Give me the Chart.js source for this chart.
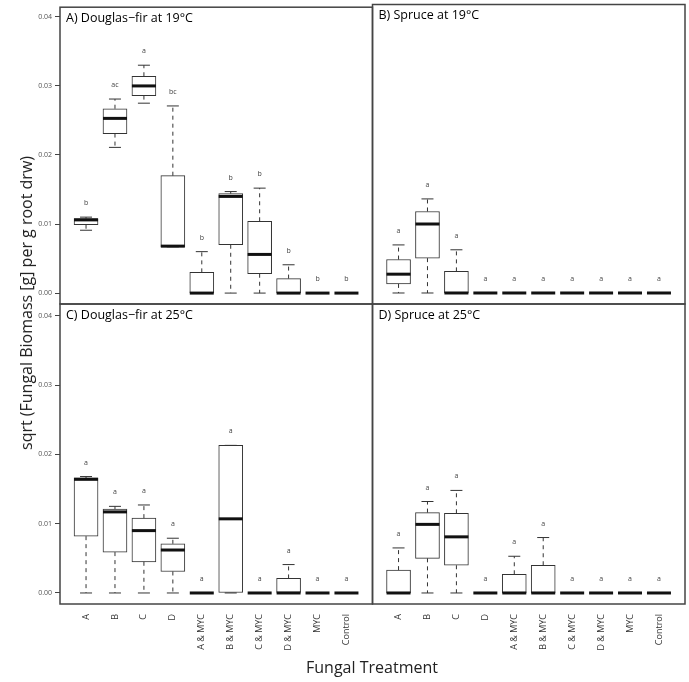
<!DOCTYPE html>
<html>
<head>
<meta charset="utf-8">
<script src="https://cdn.jsdelivr.net/npm/chart.js@4.4.1/dist/chart.umd.min.js"></script>
<style>
  body { margin: 0; background: #fff; }
  #wrap { position: relative; width: 689px; height: 682px; font-family: 'Open Sans', sans-serif; }
  #wrap canvas { position: absolute; left: 0; top: 0; }
  .ttl { position: absolute; color: #222; font-size: 16px; white-space: nowrap; }
  #ytitle { left: 26px; top: 303px; transform: translate(-50%, -50%) rotate(-90deg); }
  #xtitle { left: 372px; top: 667px; transform: translate(-50%, -50%); }
</style>
</head>
<body>
<div id="wrap">
  <canvas id="cA" width="689" height="682"></canvas>
  <canvas id="cB" width="689" height="682"></canvas>
  <canvas id="cC" width="689" height="682"></canvas>
  <canvas id="cD" width="689" height="682"></canvas>
  <div class="ttl" id="ytitle">sqrt (Fungal Biomass [g] per g root drw)</div>
  <div class="ttl" id="xtitle">Fungal Treatment</div>
</div>
<script>
// treatments and y ticks
const cats = ['A', 'B', 'C', 'D', 'A & MYC', 'B & MYC', 'C & MYC', 'D & MYC', 'MYC', 'Control'];
const yTicks = [0, 0.01, 0.02, 0.03, 0.04];

// A) Douglas-fir at 19C
const aLo  = [0.0091, 0.0211, 0.0275, 0.0067, 0, 0, 0, 0, 0, 0];
const aQ1  = [0.0099, 0.0231, 0.0286, 0.0067, 0, 0.0070, 0.0028, 0, 0, 0];
const aMed = [0.0106, 0.0253, 0.0300, 0.0068, 0, 0.0140, 0.0056, 0, 0, 0];
const aQ3  = [0.0108, 0.0267, 0.0314, 0.0170, 0.0030, 0.0144, 0.0104, 0.0021, 0, 0];
const aHi  = [0.0110, 0.0281, 0.0330, 0.0271, 0.0060, 0.0147, 0.0152, 0.0041, 0, 0];
const aLet = ['b', 'ac', 'a', 'bc', 'b', 'b', 'b', 'b', 'b', 'b'];

// B) Spruce at 19C
const bLo  = [0, 0, 0, 0, 0, 0, 0, 0, 0, 0];
const bQ1  = [0.0013, 0.0050, 0, 0, 0, 0, 0, 0, 0, 0];
const bMed = [0.0027, 0.0099, 0, 0, 0, 0, 0, 0, 0, 0];
const bQ3  = [0.0048, 0.0117, 0.0031, 0, 0, 0, 0, 0, 0, 0];
const bHi  = [0.0069, 0.0135, 0.0062, 0, 0, 0, 0, 0, 0, 0];
const bLet = ['a', 'a', 'a', 'a', 'a', 'a', 'a', 'a', 'a', 'a'];

// C) Douglas-fir at 25C
const cLo  = [0, 0, 0, 0, 0, 0, 0, 0, 0, 0];
const cQ1  = [0.0082, 0.0059, 0.0045, 0.0031, 0, 0, 0, 0, 0, 0];
const cMed = [0.0164, 0.0117, 0.0090, 0.0062, 0, 0.0107, 0, 0, 0, 0];
const cQ3  = [0.0166, 0.0121, 0.0108, 0.0071, 0, 0.0213, 0, 0.0021, 0, 0];
const cHi  = [0.0168, 0.0125, 0.0127, 0.0079, 0, 0.0213, 0, 0.0041, 0, 0];
const cLet = ['a', 'a', 'a', 'a', 'a', 'a', 'a', 'a', 'a', 'a'];

// D) Spruce at 25C
const dLo  = [0, 0, 0, 0, 0, 0, 0, 0, 0, 0];
const dQ1  = [0, 0.0050, 0.0040, 0, 0, 0, 0, 0, 0, 0];
const dMed = [0, 0.0099, 0.0081, 0, 0, 0, 0, 0, 0, 0];
const dQ3  = [0.0033, 0.0116, 0.0115, 0, 0.0027, 0.0040, 0, 0, 0, 0];
const dHi  = [0.0065, 0.0132, 0.0148, 0, 0.0053, 0.0080, 0, 0, 0, 0];
const dLet = ['a', 'a', 'a', 'a', 'a', 'a', 'a', 'a', 'a', 'a'];

const FONT = "'Open Sans', sans-serif";

// whiskers, staples, medians, letters, frame and panel title
const boxPlugin = {
    id: 'boxbits',
    afterDatasetsDraw(chart) {
        const ctx = chart.ctx;
        const xs = chart.scales.x, ys = chart.scales.y;
        const p = chart.options.plugins.boxbits;
        const area = chart.chartArea;
        ctx.save();
        cats.forEach((c, i) => {
            const x = xs.getPixelForValue(i + 1);
            const yLo = ys.getPixelForValue(p.lo[i]), yQ1 = ys.getPixelForValue(p.q1[i]);
            const yQ3 = ys.getPixelForValue(p.q3[i]), yHi = ys.getPixelForValue(p.hi[i]);
            const yMed = ys.getPixelForValue(p.med[i]);
            ctx.strokeStyle = '#333';
            ctx.lineWidth = 1;
            ctx.setLineDash([4, 4]);
            ctx.beginPath();
            if (yHi < yQ3) { ctx.moveTo(x, yQ3); ctx.lineTo(x, yHi); }
            if (yLo > yQ1) { ctx.moveTo(x, yQ1); ctx.lineTo(x, yLo); }
            ctx.stroke();
            ctx.setLineDash([]);
            ctx.beginPath();
            ctx.moveTo(x - 6, yHi); ctx.lineTo(x + 6, yHi);
            ctx.moveTo(x - 6, yLo); ctx.lineTo(x + 6, yLo);
            ctx.stroke();
            ctx.strokeStyle = '#111';
            ctx.lineWidth = 3;
            ctx.beginPath();
            ctx.moveTo(x - 12, yMed); ctx.lineTo(x + 12, yMed);
            ctx.stroke();
            ctx.fillStyle = '#444';
            ctx.font = '7px ' + FONT;
            ctx.textAlign = 'center';
            ctx.textBaseline = 'middle';
            ctx.fillText(p.letters[i], x, yHi - 14);
        });
        ctx.strokeStyle = '#444';
        ctx.lineWidth = 1.5;
        ctx.strokeRect(area.left, area.top, area.right - area.left, area.bottom - area.top);
        ctx.fillStyle = '#000';
        ctx.font = '12.5px ' + FONT;
        ctx.textAlign = 'left';
        ctx.textBaseline = 'middle';
        ctx.fillText(p.title, area.left + 6, area.top + 11);
        ctx.restore();
    }
};

function makePanel(id, title, lo, q1, med, q3, hi, letters, left, bottom) {
    const pad = {
        left: left ? 0 : 372.5,
        right: left ? 316.5 : 4,
        top: bottom ? 304 : 4.5,
        bottom: bottom ? 0 : 378
    };
    return new Chart(document.getElementById(id), {
        type: 'bar',
        data: {
            datasets: [{
                data: cats.map((c, i) => ({ x: i + 1, y: [q1[i], q3[i]] })),
                backgroundColor: '#fff',
                borderColor: '#333',
                borderWidth: 1,
                borderSkipped: false,
                barThickness: 24
            }]
        },
        options: {
            responsive: false,
            animation: false,
            devicePixelRatio: 1,
            layout: { padding: pad },
            plugins: {
                legend: { display: false },
                tooltip: { enabled: false },
                boxbits: { title, lo, q1, med, q3, hi, letters }
            },
            scales: {
                x: {
                    type: 'linear',
                    min: 0.1,
                    max: 10.9,
                    offset: false,
                    display: bottom,
                    afterBuildTicks: s => { s.ticks = cats.map((c, i) => ({ value: i + 1 })); },
                    afterFit: s => { s.height = bottom ? 78 : 0; },
                    grid: { display: false, drawTicks: false },
                    border: { display: false },
                    ticks: {
                        autoSkip: false,
                        maxRotation: 90,
                        minRotation: 90,
                        padding: 10,
                        color: '#333',
                        font: { family: FONT, size: 9 },
                        callback: (v, i) => cats[i]
                    }
                },
                y: {
                    min: bottom ? -0.00159 : -0.00158,
                    max: bottom ? 0.0417 : 0.0414,
                    display: left,
                    afterBuildTicks: s => { s.ticks = yTicks.map(v => ({ value: v })); },
                    afterFit: s => { s.width = left ? 60 : 0; },
                    grid: { drawOnChartArea: false, drawTicks: true, tickLength: 5, color: '#444' },
                    border: { display: false },
                    ticks: {
                        padding: 3,
                        color: '#555',
                        font: { family: FONT, size: 7 },
                        callback: v => v.toFixed(2)
                    }
                }
            }
        },
        plugins: [boxPlugin]
    });
}

makePanel('cA', 'A) Douglas\u2212fir at 19\u00b0C', aLo, aQ1, aMed, aQ3, aHi, aLet, true, false);
makePanel('cB', 'B) Spruce at 19\u00b0C', bLo, bQ1, bMed, bQ3, bHi, bLet, false, false);
makePanel('cC', 'C) Douglas\u2212fir at 25\u00b0C', cLo, cQ1, cMed, cQ3, cHi, cLet, true, true);
makePanel('cD', 'D) Spruce at 25\u00b0C', dLo, dQ1, dMed, dQ3, dHi, dLet, false, true);
</script>
</body>
</html>
